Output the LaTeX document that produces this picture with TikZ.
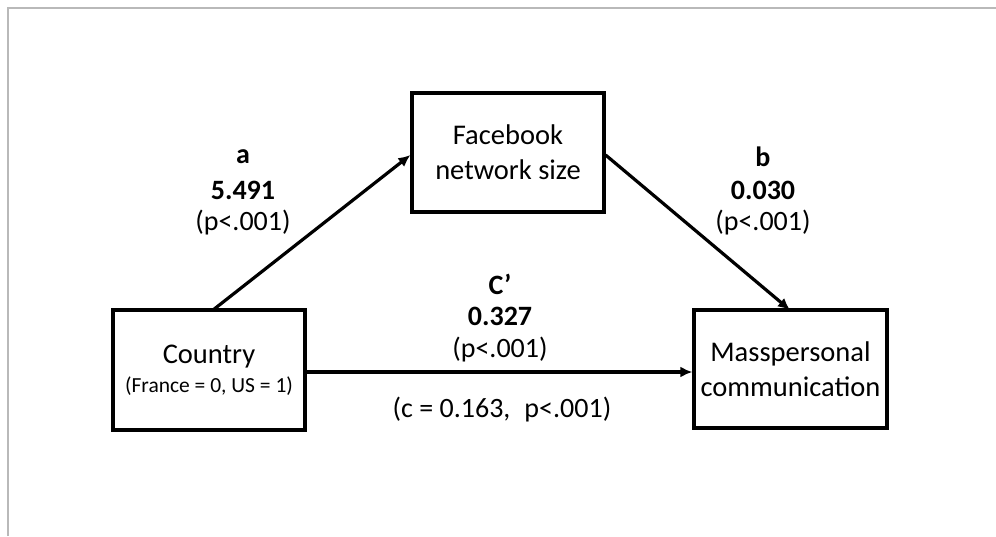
\documentclass[tikz,border=0pt]{standalone}
\usepackage{fontspec}
\setmainfont{Carlito}
\usetikzlibrary{arrows.meta}
\begin{document}
\begin{tikzpicture}[x=1pt,y=-1pt,
  box/.style={draw=black,line width=3.2pt,minimum width=#1,inner sep=0pt,align=center,font=\fontsize{28.5}{35}\selectfont},
  conn/.style={line width=3.2pt,-{Latex[length=12pt,width=11pt]}},
  lab/.style={font=\fontsize{28}{32}\selectfont,inner sep=0pt,anchor=center},
  blab/.style={lab,font=\bfseries\fontsize{28}{32}\selectfont}]
\useasboundingbox (0,0) rectangle (996,536);
\draw[gray!55,line width=1.6pt] (8,536) -- (8,8) -- (996,8);
\node[box=192pt,minimum height=120pt] (country) at (209,370) {Country\\[-6pt]{\fontsize{21.5}{24}\selectfont(France = 0, US = 1)}};
\node[box=192pt,minimum height=119pt] (fb) at (508,152.5) {Facebook\\network size};
\node[box=193pt,minimum height=118pt] (mc) at (790.5,369) {Masspersonal\\communication};
\coordinate (c1) at (213,310);
\coordinate (m1) at (790,310);
\draw[conn] (c1) -- (fb.west |- 0,155);
\draw[conn] (fb.east |- 0,155) -- (m1);
\draw[conn] (country.east |- 0,372) -- (mc.west |- 0,372);
\node[blab] (la) at (243,157) {a};
\node[blab] (la2) at (243,190) {5.491};
\node[lab] (la3) at (243,223) {(p<.001)};
\node[blab] (lb) at (763,157) {b};
\node[blab] (lb2) at (763,190) {0.030};
\node[lab] (lb3) at (763,223) {(p<.001)};
\node[blab] (lc) at (500,284) {C’};
\node[blab] (lc2) at (500,316) {0.327};
\node[lab] (lc3) at (500,350) {(p<.001)};
\node[lab] (lc4) at (502,410) {(c = 0.163,\enspace p<.001)};
\end{tikzpicture}
\end{document}
